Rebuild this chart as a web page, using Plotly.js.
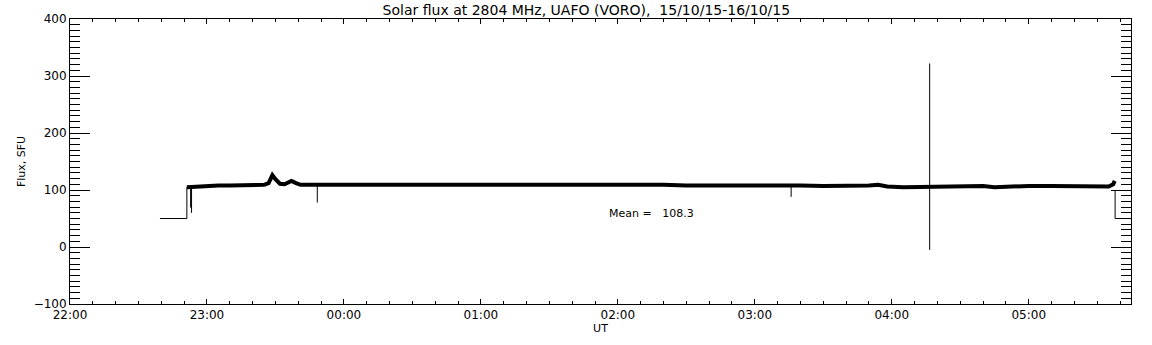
<!DOCTYPE html>
<html>
<head>
<meta charset="utf-8">
<script src="https://cdn.plot.ly/plotly-3.0.1.min.js"></script>
<style>html,body{margin:0;padding:0;background:#fff;}#chart{width:1152px;height:345px;}</style>
</head>
<body>
<div id="chart"></div>
<script>
// Noise-band centre readings (UT, SFU)
const bandTimes = [
  "2015-10-15 22:51:12","2015-10-15 22:55:00","2015-10-15 23:00:00","2015-10-15 23:05:00",
  "2015-10-15 23:10:00","2015-10-15 23:15:00","2015-10-15 23:20:00","2015-10-15 23:25:00",
  "2015-10-15 23:27:00","2015-10-15 23:28:40","2015-10-15 23:30:00","2015-10-15 23:32:00",
  "2015-10-15 23:34:00","2015-10-15 23:35:30","2015-10-15 23:37:00","2015-10-15 23:39:00",
  "2015-10-15 23:41:00","2015-10-15 23:45:00","2015-10-15 23:50:00","2015-10-15 23:55:00",
  "2015-10-16 00:00:00","2015-10-16 00:10:00","2015-10-16 00:20:00","2015-10-16 00:30:00",
  "2015-10-16 00:40:00","2015-10-16 00:50:00","2015-10-16 01:00:00","2015-10-16 01:10:00",
  "2015-10-16 01:20:00","2015-10-16 01:30:00","2015-10-16 01:40:00","2015-10-16 01:50:00",
  "2015-10-16 02:00:00","2015-10-16 02:10:00","2015-10-16 02:20:00","2015-10-16 02:30:00",
  "2015-10-16 02:40:00","2015-10-16 02:50:00","2015-10-16 03:00:00","2015-10-16 03:10:00",
  "2015-10-16 03:20:00","2015-10-16 03:30:00","2015-10-16 03:40:00","2015-10-16 03:50:00",
  "2015-10-16 03:54:00","2015-10-16 03:58:00","2015-10-16 04:05:00","2015-10-16 04:15:00",
  "2015-10-16 04:25:00","2015-10-16 04:35:00","2015-10-16 04:40:00","2015-10-16 04:45:00",
  "2015-10-16 04:50:00","2015-10-16 05:00:00","2015-10-16 05:10:00","2015-10-16 05:20:00",
  "2015-10-16 05:30:00","2015-10-16 05:35:00","2015-10-16 05:37:00","2015-10-16 05:37:40"
];
const bandFlux = [
  105,106,107,108,
  108,108,109,109,
  112,126,119,111,
  110,113,116,112,
  109,109,109,109,
  109,109,109,109,
  109,109,110,110,
  110,110,110,110,
  109,109,109,108,
  108,109,109,109,
  108,107,107,108,
  109,106,105,106,
  106,107,107,105,
  106,107,107,106,
  105,106,110,116
];
// Short single-sample excursions (UT, low SFU, high SFU)
const spikeTimes = ["2015-10-15 22:52:50","2015-10-15 22:53:15","2015-10-15 23:48:20","2015-10-16 03:15:55","2015-10-16 04:16:36"];
const spikeLow   = [69, 60, 78, 88, -5];
const spikeHigh  = [105, 105, 108, 108, 322];
// Calibration / off-source segments
const offTimes = ["2015-10-15 22:39:24","2015-10-15 22:51:12","2015-10-15 22:51:12",null,
                  "2015-10-16 05:37:50","2015-10-16 05:37:50","2015-10-16 05:44:48"];
const offFlux  = [50, 50, 105, null, 100, 50, 50];
const meanText = "Mean =\u00a0\u00a0\u00a0108.3";
const meanPos = {t: "2015-10-16 01:55:12", v: 58};

const sx = [], sy = [];
spikeTimes.forEach((t, i) => { sx.push(t, t, null); sy.push(spikeLow[i], spikeHigh[i], null); });

const font = {family: "DejaVu Sans, sans-serif", color: "#000", size: 12};
const traces = [
  {x: bandTimes, y: bandFlux, mode: "lines", line: {color: "#000", width: 4}, hoverinfo: "skip"},
  {x: sx, y: sy, mode: "lines", line: {color: "#000", width: 1}, connectgaps: false, hoverinfo: "skip"},
  {x: offTimes, y: offFlux, mode: "lines", line: {color: "#000", width: 1}, connectgaps: false, hoverinfo: "skip"}
];
const layout = {
  width: 1152, height: 345,
  margin: {l: 70, r: 21, t: 19, b: 41},
  paper_bgcolor: "#fff", plot_bgcolor: "#fff",
  showlegend: false,
  font: font,
  title: {text: "Solar flux at 2804 MHz, UAFO (VORO),\u00a0\u00a015/10/15-16/10/15",
          font: {family: "DejaVu Sans, sans-serif", size: 14, color: "#000"},
          xref: "container", x: 0.509, xanchor: "center", yref: "container", y: 0.972, yanchor: "middle"},
  xaxis: {
    type: "date", range: ["2015-10-15 22:00:00", "2015-10-16 05:44:48"],
    tick0: "2015-10-15 22:00:00", dtick: 3600000, tickformat: "%H:%M",
    ticks: "inside", ticklen: 5, tickwidth: 1, tickcolor: "#000",
    minor: {dtick: 600000, ticks: "inside", ticklen: 3, tickwidth: 1, tickcolor: "#000", showgrid: false},
    showline: true, linecolor: "#000", linewidth: 1, mirror: "ticks",
    showgrid: false, zeroline: false, tickfont: {size: 12},
    title: {text: "UT", font: {size: 11}, standoff: 2}
  },
  yaxis: {
    range: [-100, 400], dtick: 100, tick0: 0,
    ticks: "inside", ticklen: 20, tickwidth: 1, tickcolor: "#000",
    minor: {dtick: 10, ticks: "inside", ticklen: 10, tickwidth: 1, tickcolor: "#000", showgrid: false},
    showline: true, linecolor: "#000", linewidth: 1, mirror: "ticks",
    showgrid: false, zeroline: false, tickfont: {size: 12},
    title: {text: "Flux, SFU", font: {size: 11}, standoff: 5}
  },
  annotations: [{x: meanPos.t, y: meanPos.v, xref: "x", yref: "y", text: meanText, showarrow: false,
                 xanchor: "left", yanchor: "middle", font: {size: 11}}]
};
Plotly.newPlot("chart", traces, layout, {staticPlot: true});
</script>
</body>
</html>
